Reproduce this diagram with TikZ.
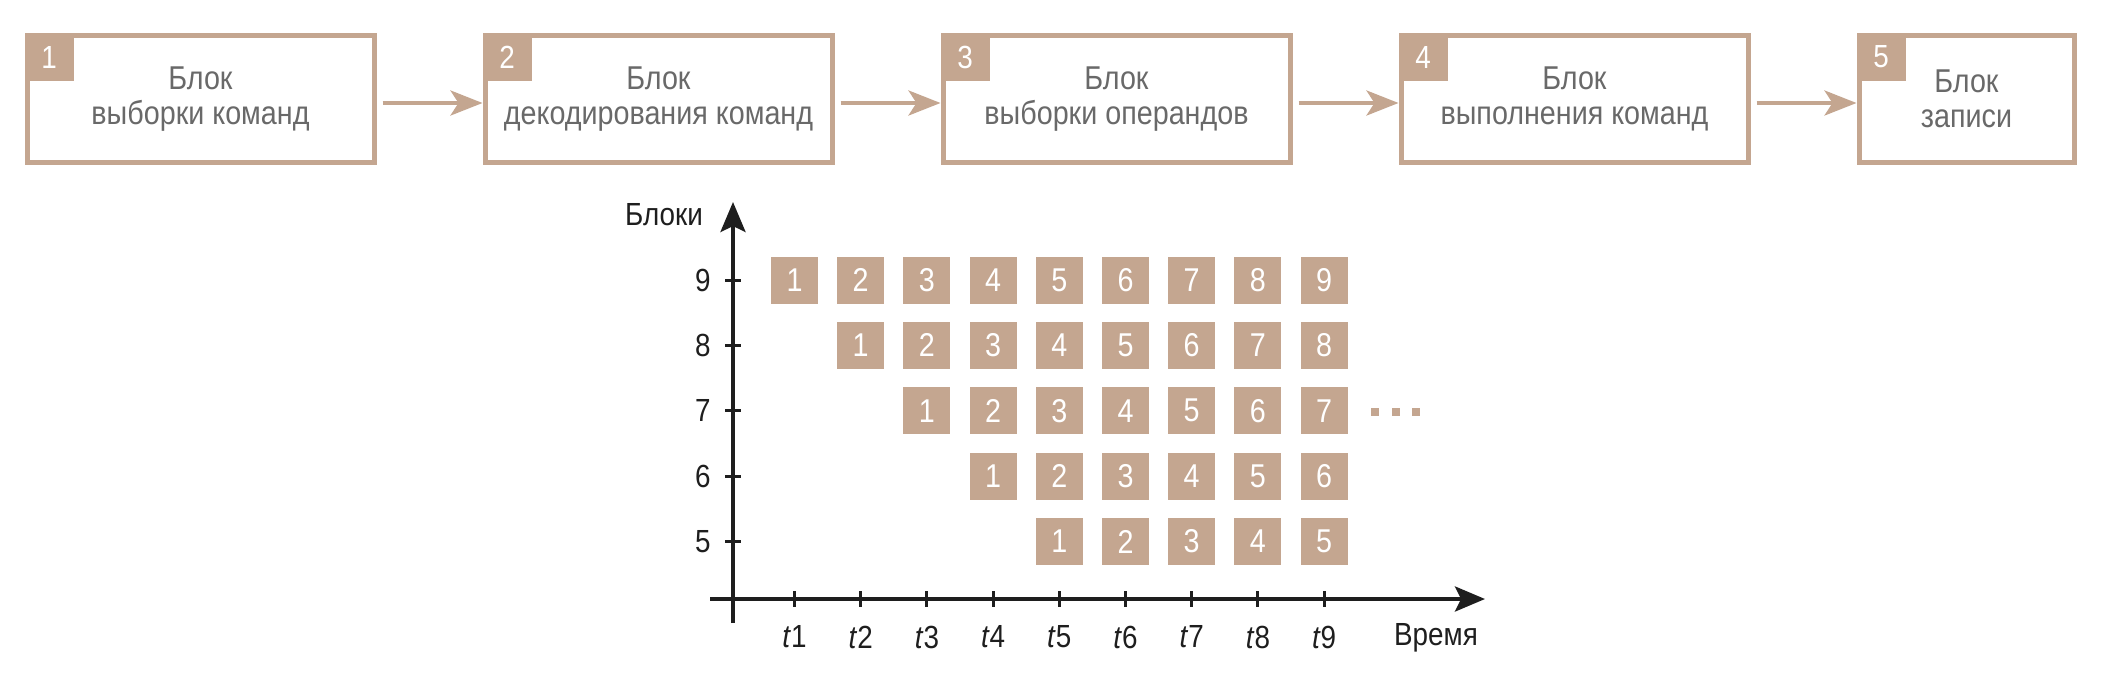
\documentclass[tikz,border=0pt]{standalone}
\usepackage{fontspec}
\setmainfont[FakeStretch=0.87]{Liberation Sans}
\usetikzlibrary{positioning,arrows.meta}
\definecolor{tan}{RGB}{196,166,144}
\definecolor{txtgray}{RGB}{105,105,105}
\definecolor{axisblack}{RGB}{30,30,30}
\tikzset{
	stage/.style={draw=tan, line width=2.5pt, minimum width=173.5pt, minimum height=63.5pt, align=center, text=txtgray, inner sep=0pt, font=\fontsize{16.5}{17.5}\selectfont},
	tag/.style={fill=tan, text=white, minimum width=24.5pt, minimum height=24pt, inner sep=0pt, outer sep=0pt, anchor=north west, font=\fontsize{16}{17}\selectfont},
	flow/.style={draw=tan, line width=2pt, shorten <=3pt, -{Stealth[length=16pt, width=12.5pt, inset=4pt]}},
	cell/.style={fill=tan, text=white, minimum size=23.5pt, inner sep=0pt, font=\fontsize{16.5}{17}\selectfont},
	axis/.style={draw=axisblack, line width=2pt, -{Stealth[length=15pt, width=12.5pt, inset=3pt]}},
	tick/.style={draw=axisblack, line width=1.5pt},
	lbl/.style={text=axisblack, inner sep=0pt, font=\fontsize{16}{17}\selectfont}
}
\begin{document}
\begin{tikzpicture}[x=0.5pt, y=-0.5pt]
		\useasboundingbox (0, 0) rectangle (2111, 681);
		% stages of the pipeline
		\node[stage] (b1) at (200.5, 99) {Блок\\выборки команд};
		\node[stage, right=53pt of b1] (b2) {Блок\\декодирования команд};
		\node[stage, right=53pt of b2] (b3) {Блок\\выборки операндов};
		\node[stage, right=53pt of b3] (b4) {Блок\\выполнения команд};
		\node[stage, right=53pt of b4, minimum width=107.5pt] (b5) {Блок\\записи};
		\foreach \i in {1,...,5}
			\node[tag] (n\i) at (b\i.north west) {\i};
		\foreach \i/\j in {1/2, 2/3, 3/4, 4/5}
			\draw[flow] ([yshift=-2pt]b\i.east) -- ([yshift=-2pt]b\j.west);
		% axes
		\coordinate (yfoot) at (733, 623);
		\coordinate (yhead) at (733, 202);
		\coordinate (xfoot) at (710, 599);
		\coordinate (xhead) at (1485, 599);
		\draw[axis] (yfoot) -- (yhead);
		\draw[axis] (xfoot) -- (xhead);
		\node[lbl] (ylab) at (664, 215) {Блоки};
		\node[lbl] (xlab) at (1436, 638) {Время};
		\foreach \r in {5,...,9} {
			\draw[tick] (725, {280+(9-\r)*65.4}) -- (741, {280+(9-\r)*65.4});
			\node[lbl, anchor=east] (r\r) at (711, {280+(9-\r)*65.4}) {\r};
		}
		\foreach \i in {1,...,9} {
			\draw[tick] ({794.5+(\i-1)*66.2}, 591) -- ({794.5+(\i-1)*66.2}, 607);
			\node[lbl] (t\i) at ({794.5+(\i-1)*66.2}, 637) {\textit{t}\i};
		}
		% cells
		\foreach \r in {5,...,9} {
			\pgfmathtruncatemacro\first{10-\r}
			\foreach \c in {\first,...,9} {
				\pgfmathtruncatemacro\n{\c-9+\r}
				\node[cell] (c\r-\c) at ({794.5+(\c-1)*66.2}, {280+(9-\r)*65.4}) {\n};
			}
		}
		\foreach \x in {1375, 1395.5, 1416}
			\fill[tan] (\x-4, 408) rectangle (\x+4, 416);
	\end{tikzpicture}
\end{document}
